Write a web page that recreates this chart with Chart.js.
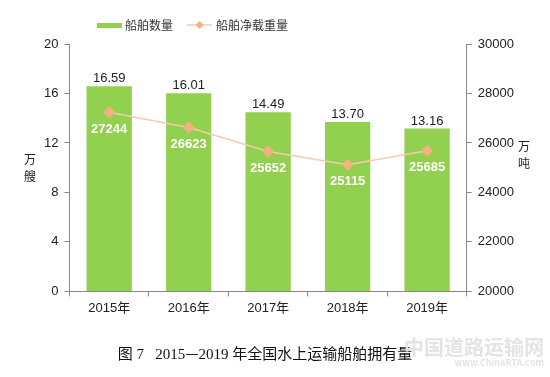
<!DOCTYPE html>
<html>
<head>
<meta charset="utf-8">
<script src="https://cdn.jsdelivr.net/npm/chart.js@4"></script>
<style>
  body { margin: 0; background: #fff; }
  #wrap { position: relative; width: 550px; height: 377px; }
  #caption { position: absolute; left: 0; width: 530px; top: 342px; text-align: center;
    font-family: "Liberation Serif", "Noto Sans CJK SC", serif; font-size: 15px; color: #111; }
  #mark { position: absolute; right: 6px; top: 336px; text-align: right;
    font-family: "Noto Sans CJK SC", sans-serif; color: #e4e4e4; font-weight: bold; }
</style>
</head>
<body>
<div id="wrap">
  <canvas id="chuanbo" width="550" height="377"></canvas>
  <div id="caption">图 7&nbsp;&nbsp;&nbsp;2015<span style="font-family:'Noto Sans CJK SC'">—</span>2019 年全国水上运输船舶拥有量</div>
  <div id="mark"><div style="font-size:20px;line-height:22px">中国道路运输网</div><div style="font-size:9px;line-height:10px">www.ChinaRTA.com</div></div>
</div>
<script>
const years = ["2015年", "2016年", "2017年", "2018年", "2019年"];
const shipCount = [16.59, 16.01, 14.49, 13.70, 13.16];      // 万艘
const netTonnage = [27244, 26623, 25652, 25115, 25685];     // 万吨

const fontFam = "'Liberation Sans', 'Noto Sans CJK SC', sans-serif";
const cjk = "'Noto Sans CJK SC', sans-serif";

// labels, legend and axis titles
const extras = {
    id: 'extras',
    afterDatasetsDraw(chart) {
        const c = chart.ctx;
        c.save();
        c.textAlign = 'center';
        // bar values
        const bars = chart.getDatasetMeta(0).data;
        c.font = '13px ' + fontFam;
        c.fillStyle = '#222';
        c.textBaseline = 'bottom';
        bars.forEach((b, i) => c.fillText(shipCount[i].toFixed(2), b.x, b.y - 1));
        // line values
        const pts = chart.getDatasetMeta(1).data;
        c.font = 'bold 13px ' + fontFam;
        c.fillStyle = '#fff';
        c.textBaseline = 'middle';
        pts.forEach((p, i) => c.fillText(String(netTonnage[i]), p.x, p.y + 17));

        // axis titles
        c.font = '12px ' + cjk;
        c.fillStyle = '#222';
        c.fillText('万', 30, 159);
        c.fillText('艘', 30, 176);
        c.fillText('万', 524, 146);
        c.fillText('吨', 524, 163);

        // legend
        c.fillStyle = '#92D050';
        c.fillRect(97, 23, 25, 5);
        c.fillStyle = '#333';
        c.textAlign = 'left';
        c.font = '12px ' + cjk;
        c.fillText('船舶数量', 125, 25);
        c.strokeStyle = '#F8CBAD';
        c.lineWidth = 1.5;
        c.beginPath(); c.moveTo(187, 25); c.lineTo(212, 25); c.stroke();
        c.fillStyle = '#F4B183';
        c.beginPath(); c.moveTo(199.5, 21); c.lineTo(203.5, 25); c.lineTo(199.5, 29); c.lineTo(195.5, 25); c.closePath(); c.fill();
        c.fillStyle = '#333';
        c.fillText('船舶净载重量', 216, 25);
        c.restore();
    }
};

const ctx = document.getElementById('chuanbo').getContext('2d');
new Chart(ctx, {
    data: {
        labels: years,
        datasets: [{
            type: 'bar',
            label: '船舶数量',
            data: shipCount,
            backgroundColor: '#92D050',
            yAxisID: 'y',
            categoryPercentage: 1,
            barPercentage: 0.57,
            order: 2
        }, {
            type: 'line',
            label: '船舶净载重量',
            data: netTonnage,
            yAxisID: 'y2',
            borderColor: '#F8CBAD',
            borderWidth: 1.5,
            pointStyle: 'rectRot',
            pointRadius: 5,
            pointBackgroundColor: '#F4B183',
            pointBorderColor: '#F4B183',
            order: 1
        }]
    },
    options: {
        responsive: false,
        animation: false,
        layout: { padding: { left: 38, right: 30, top: 44, bottom: 57 } },
        plugins: { legend: { display: false }, tooltip: { enabled: false } },
        scales: {
            x: {
                grid: { display: true, drawOnChartArea: false, tickLength: 5, color: '#888', offset: true },
                border: { color: '#888' },
                ticks: { color: '#222', font: { size: 13, family: fontFam }, padding: 4 }
            },
            y: {
                position: 'left',
                min: 0, max: 20,
                ticks: { stepSize: 4, color: '#222', font: { size: 13, family: fontFam }, padding: 6 },
                grid: { display: true, drawOnChartArea: false, tickLength: 5, color: '#888' },
                border: { color: '#888' }
            },
            y2: {
                position: 'right',
                min: 20000, max: 30000,
                ticks: { stepSize: 2000, color: '#222', font: { size: 13, family: fontFam }, padding: 6,
                    callback: v => String(v) },
                grid: { display: true, drawOnChartArea: false, tickLength: 5, color: '#888' },
                border: { color: '#888' }
            }
        }
    },
    plugins: [extras]
});
</script>
</body>
</html>
